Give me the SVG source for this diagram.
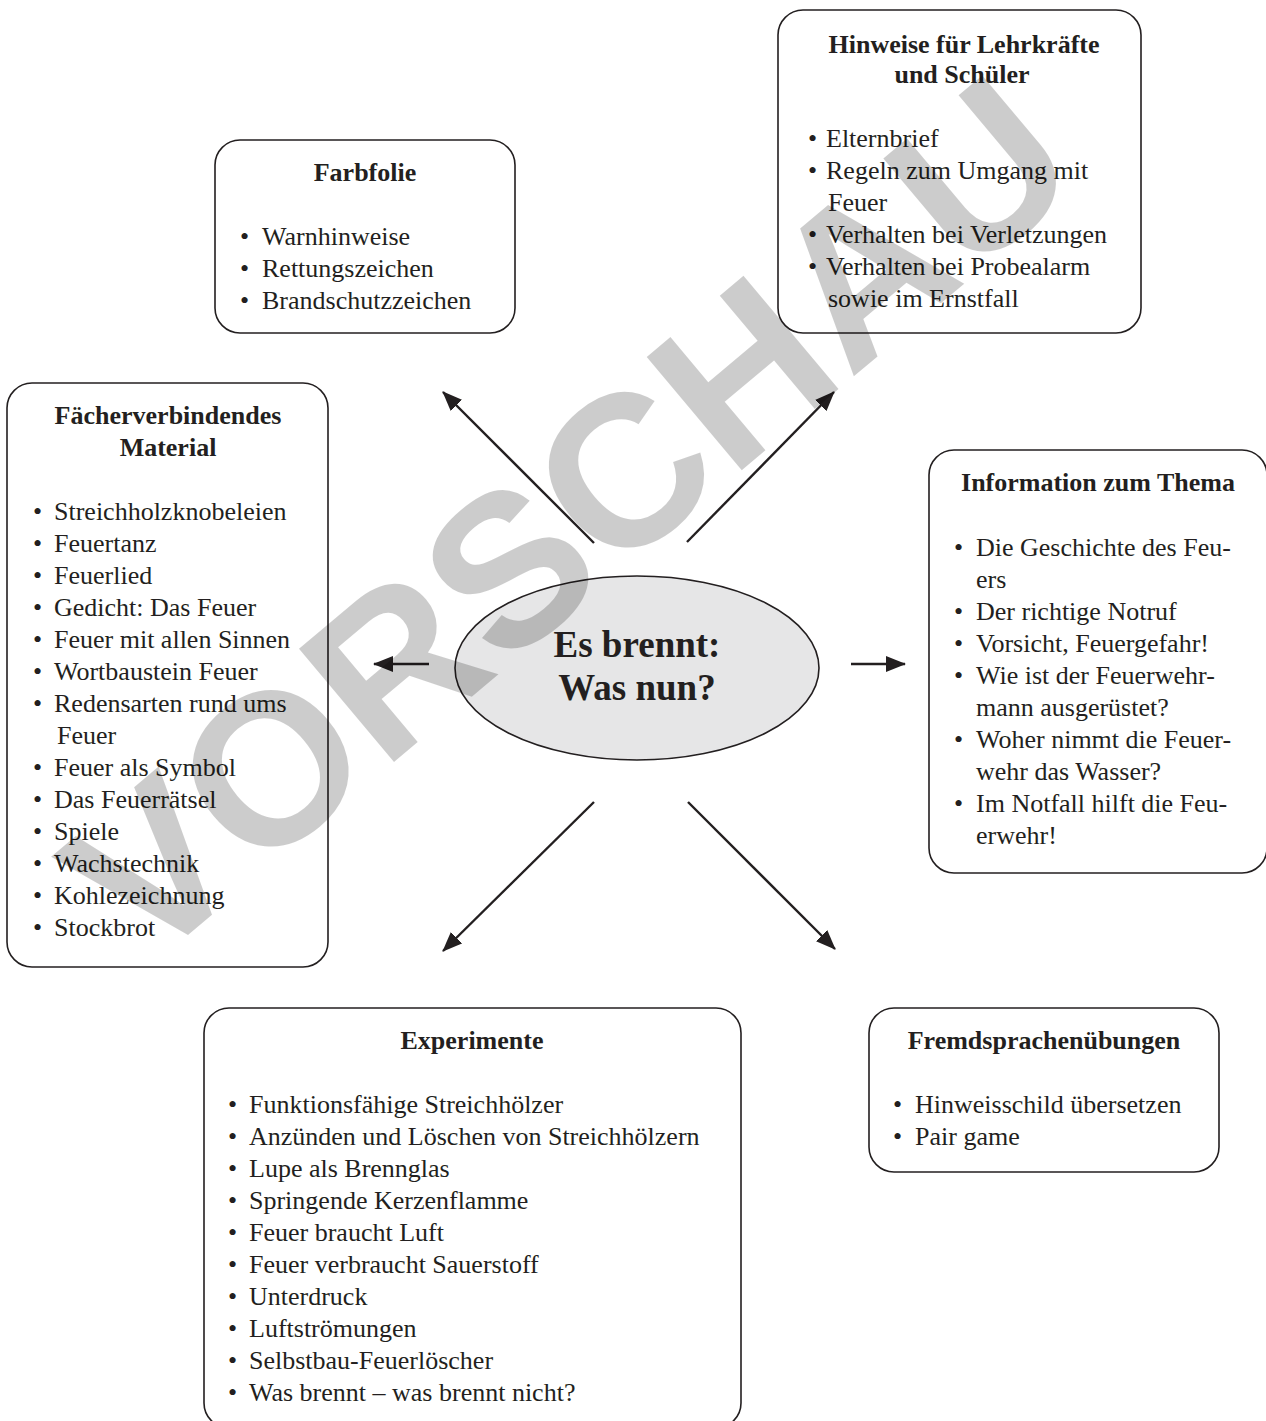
<svg xmlns="http://www.w3.org/2000/svg" width="1266" height="1421" viewBox="0 0 1266 1421">
<style>
.box{fill:#fff;stroke:#231f20;stroke-width:1.6}
.t{font-family:"Liberation Serif","Times New Roman",serif;font-size:26px;fill:#231f20}
.h{font-family:"Liberation Serif","Times New Roman",serif;font-size:26px;font-weight:bold;fill:#231f20;text-anchor:middle}
.big{font-family:"Liberation Serif","Times New Roman",serif;font-size:37px;font-weight:bold;fill:#231f20;text-anchor:middle}
.c{stroke:#231f20;stroke-width:2.4;fill:none;marker-end:url(#ah)}
.wm{font-family:"Liberation Sans",Arial,sans-serif;font-weight:bold;font-size:215px;fill:#000;fill-opacity:0.2}
</style>
<defs>
<marker id="ah" markerUnits="userSpaceOnUse" markerWidth="20" markerHeight="16" viewBox="0 0 20 16" refX="19" refY="8" orient="auto">
<path d="M0,0 L20,8 L0,16 Z" fill="#231f20"/>
</marker>
</defs>
<rect width="1266" height="1421" fill="#fff"/>

<g id="node-farbfolie">
<rect class="box" x="215" y="140" width="300" height="193" rx="25"/>
<text class="h" x="365" y="181">Farbfolie</text>
<text class="t"><tspan x="240" y="245">•</tspan><tspan x="262" y="245">Warnhinweise</tspan><tspan x="240" y="277">•</tspan><tspan x="262" y="277">Rettungszeichen</tspan><tspan x="240" y="309">•</tspan><tspan x="262" y="309">Brandschutzzeichen</tspan></text>
</g>

<g id="node-hinweise">
<rect class="box" x="778" y="10" width="363" height="323" rx="25"/>
<text class="h" x="964" y="53">Hinweise für Lehrkräfte</text>
<text class="h" x="962" y="83">und Schüler</text>
<text class="t"><tspan x="808" y="147">•</tspan><tspan x="826" y="147">Elternbrief</tspan><tspan x="808" y="179">•</tspan><tspan x="826" y="179">Regeln zum Umgang mit</tspan><tspan x="828" y="211">Feuer</tspan><tspan x="808" y="243">•</tspan><tspan x="826" y="243">Verhalten bei Verletzungen</tspan><tspan x="808" y="275">•</tspan><tspan x="826" y="275">Verhalten bei Probealarm</tspan><tspan x="828" y="307">sowie im Ernstfall</tspan></text>
</g>

<g id="node-faecher">
<rect class="box" x="7" y="383" width="321" height="584" rx="25"/>
<text class="h" x="168" y="424">Fächerverbindendes</text>
<text class="h" x="168" y="456">Material</text>
<text class="t"><tspan x="33" y="520">•</tspan><tspan x="54" y="520">Streichholzknobeleien</tspan><tspan x="33" y="552">•</tspan><tspan x="54" y="552">Feuertanz</tspan><tspan x="33" y="584">•</tspan><tspan x="54" y="584">Feuerlied</tspan><tspan x="33" y="616">•</tspan><tspan x="54" y="616">Gedicht: Das Feuer</tspan><tspan x="33" y="648">•</tspan><tspan x="54" y="648">Feuer mit allen Sinnen</tspan><tspan x="33" y="680">•</tspan><tspan x="54" y="680">Wortbaustein Feuer</tspan><tspan x="33" y="712">•</tspan><tspan x="54" y="712">Redensarten rund ums</tspan><tspan x="57" y="744">Feuer</tspan><tspan x="33" y="776">•</tspan><tspan x="54" y="776">Feuer als Symbol</tspan><tspan x="33" y="808">•</tspan><tspan x="54" y="808">Das Feuerrätsel</tspan><tspan x="33" y="840">•</tspan><tspan x="54" y="840">Spiele</tspan><tspan x="33" y="872">•</tspan><tspan x="54" y="872">Wachstechnik</tspan><tspan x="33" y="904">•</tspan><tspan x="54" y="904">Kohlezeichnung</tspan><tspan x="33" y="936">•</tspan><tspan x="54" y="936">Stockbrot</tspan></text>
</g>

<g id="node-information">
<rect class="box" x="929" y="450" width="338" height="423" rx="25"/>
<text class="h" x="1098" y="491">Information zum Thema</text>
<text class="t"><tspan x="954" y="556">•</tspan><tspan x="976" y="556">Die Geschichte des Feu-</tspan><tspan x="976" y="588">ers</tspan><tspan x="954" y="620">•</tspan><tspan x="976" y="620">Der richtige Notruf</tspan><tspan x="954" y="652">•</tspan><tspan x="976" y="652">Vorsicht, Feuergefahr!</tspan><tspan x="954" y="684">•</tspan><tspan x="976" y="684">Wie ist der Feuerwehr-</tspan><tspan x="976" y="716">mann ausgerüstet?</tspan><tspan x="954" y="748">•</tspan><tspan x="976" y="748">Woher nimmt die Feuer-</tspan><tspan x="976" y="780">wehr das Wasser?</tspan><tspan x="954" y="812">•</tspan><tspan x="976" y="812">Im Notfall hilft die Feu-</tspan><tspan x="976" y="844">erwehr!</tspan></text>
</g>

<g id="node-center">
<ellipse cx="637" cy="668" rx="182" ry="92" fill="#e6e6e7" stroke="#231f20" stroke-width="1.6"/>
<text class="big" x="637" y="657">Es brennt:</text>
<text class="big" x="637" y="700">Was nun?</text>
</g>

<g id="node-experimente">
<rect class="box" x="204" y="1008" width="537" height="420" rx="25"/>
<text class="h" x="472" y="1049">Experimente</text>
<text class="t"><tspan x="228" y="1113">•</tspan><tspan x="249" y="1113">Funktionsfähige Streichhölzer</tspan><tspan x="228" y="1145">•</tspan><tspan x="249" y="1145">Anzünden und Löschen von Streichhölzern</tspan><tspan x="228" y="1177">•</tspan><tspan x="249" y="1177">Lupe als Brennglas</tspan><tspan x="228" y="1209">•</tspan><tspan x="249" y="1209">Springende Kerzenflamme</tspan><tspan x="228" y="1241">•</tspan><tspan x="249" y="1241">Feuer braucht Luft</tspan><tspan x="228" y="1273">•</tspan><tspan x="249" y="1273">Feuer verbraucht Sauerstoff</tspan><tspan x="228" y="1305">•</tspan><tspan x="249" y="1305">Unterdruck</tspan><tspan x="228" y="1337">•</tspan><tspan x="249" y="1337">Luftströmungen</tspan><tspan x="228" y="1369">•</tspan><tspan x="249" y="1369">Selbstbau-Feuerlöscher</tspan><tspan x="228" y="1401">•</tspan><tspan x="249" y="1401">Was brennt – was brennt nicht?</tspan></text>
</g>

<g id="node-fremdsprachen">
<rect class="box" x="869" y="1008" width="350" height="164" rx="25"/>
<text class="h" x="1044" y="1049">Fremdsprachenübungen</text>
<text class="t"><tspan x="893" y="1113">•</tspan><tspan x="915" y="1113">Hinweisschild übersetzen</tspan><tspan x="893" y="1145">•</tspan><tspan x="915" y="1145">Pair game</tspan></text>
</g>

<g id="connectors">
<line class="c" x1="594" y1="543" x2="443" y2="392"/>
<line class="c" x1="687" y1="542" x2="834" y2="392"/>
<line class="c" x1="429" y1="664" x2="374" y2="664"/>
<line class="c" x1="851" y1="664" x2="905" y2="664"/>
<line class="c" x1="594" y1="802" x2="443" y2="951"/>
<line class="c" x1="688" y1="802" x2="835" y2="949"/>
</g>

<text class="wm" transform="translate(145,971) rotate(-40)">VORSCHAU</text>
</svg>
